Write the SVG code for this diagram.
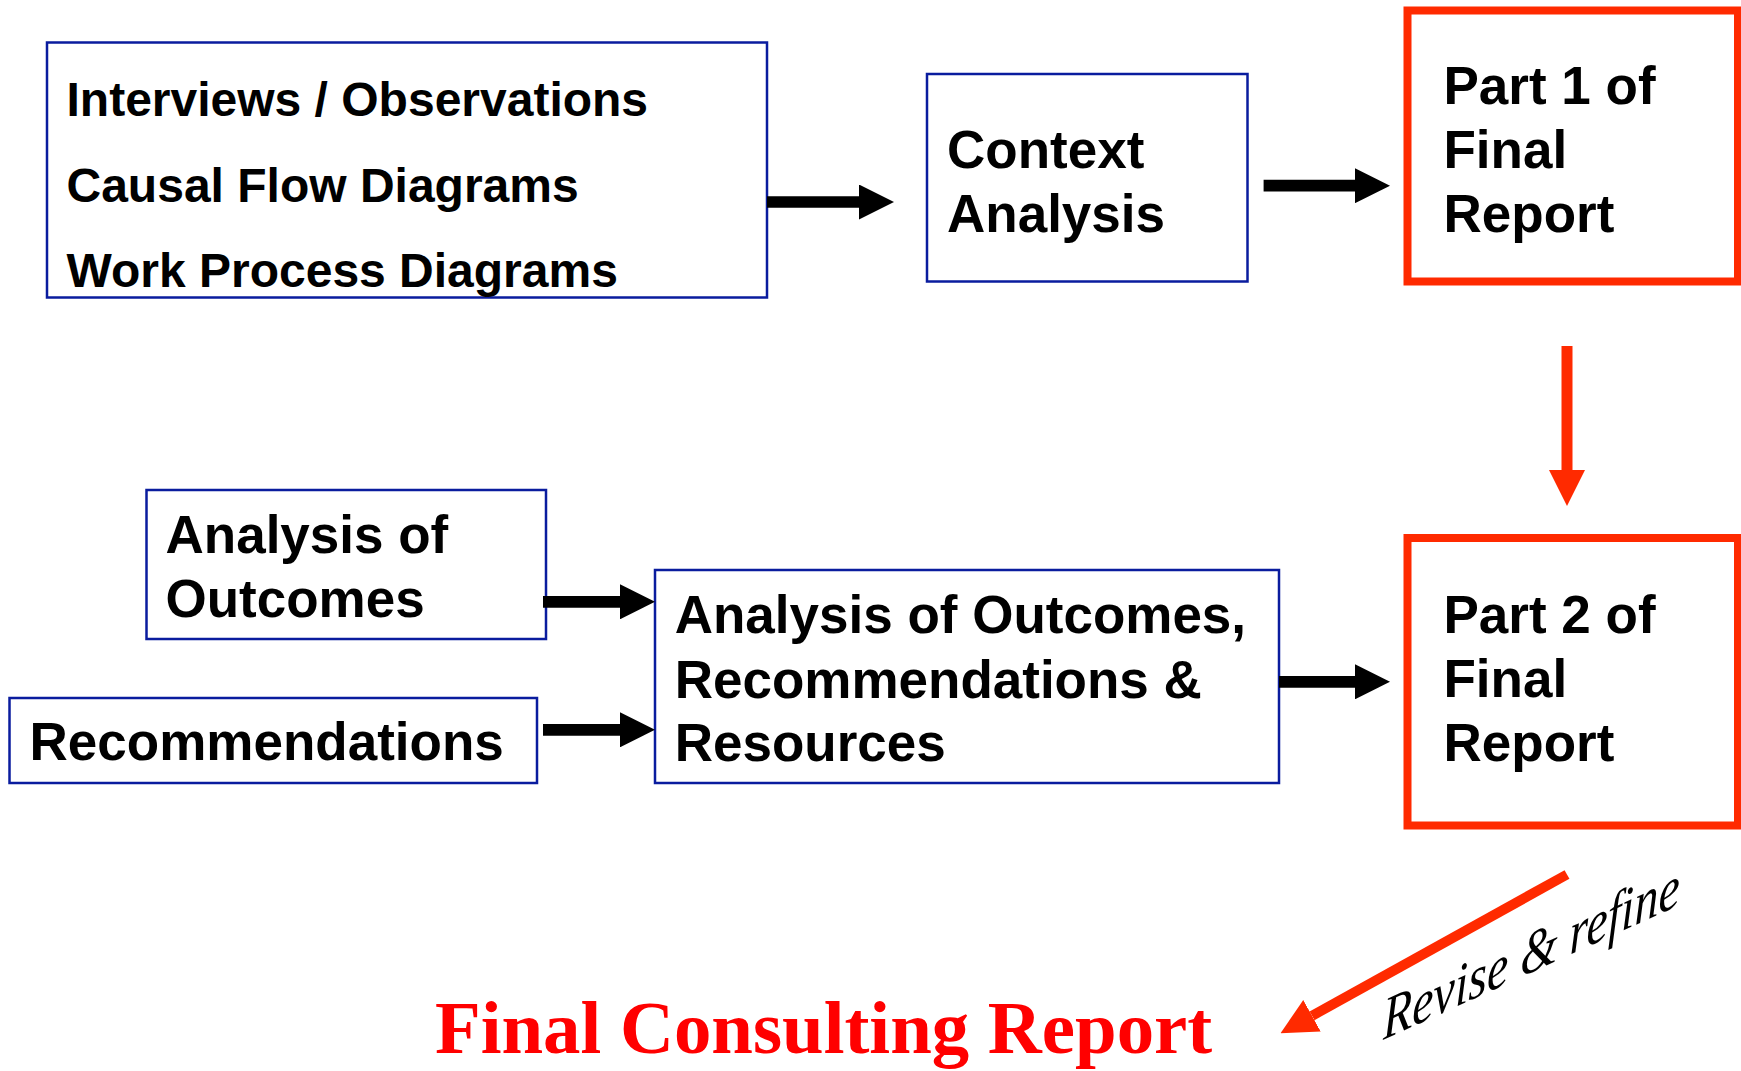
<svg xmlns="http://www.w3.org/2000/svg" width="1741" height="1071" viewBox="0 0 1741 1071">
<style>
.bb{fill:#fff;stroke:#0a1c9e;stroke-width:2.5}
.rb{fill:#fff;stroke:#ff2a00;stroke-width:8}
.t{font-family:"Liberation Sans",Arial,sans-serif;font-weight:bold;fill:#000}
.t48{font-size:48px}
.t53{font-size:53px}
.blk{stroke:#000;stroke-width:11.7;fill:none}
.red{stroke:#ff2a00;fill:none}
</style>
<defs>
<marker id="ah" markerUnits="userSpaceOnUse" viewBox="0 0 35 35" markerWidth="35" markerHeight="35" refX="0" refY="17.5" orient="auto">
<path d="M0,0 L35,17.5 L0,35 Z" fill="#000"/>
</marker>
<marker id="rh" markerUnits="userSpaceOnUse" viewBox="0 0 36 36" markerWidth="36" markerHeight="36" refX="0" refY="18" orient="auto">
<path d="M0,0 L36,18 L0,36 Z" fill="#ff2a00"/>
</marker>
</defs>
<rect width="1741" height="1071" fill="#fff"/>
<g id="inputs">
<rect class="bb" x="47" y="42.5" width="720" height="255"/>
<text class="t t48" x="66.5" y="116">Interviews / Observations</text>
<text class="t t48" x="66.5" y="202">Causal Flow Diagrams</text>
<text class="t t48" x="66.5" y="287">Work Process Diagrams</text>
</g>
<g id="context">
<rect class="bb" x="927" y="74" width="320.5" height="207.5"/>
<text class="t t53" x="947" y="168.3">Context</text>
<text class="t t53" x="947" y="232">Analysis</text>
</g>
<g id="part1">
<rect class="rb" x="1407.5" y="10.5" width="330.5" height="271"/>
<text class="t t53" x="1443.5" y="104">Part 1 of</text>
<text class="t t53" x="1443.5" y="168.3">Final</text>
<text class="t t53" x="1443.5" y="232">Report</text>
</g>
<g id="outcomes">
<rect class="bb" x="146.5" y="490" width="399.5" height="149"/>
<text class="t t53" x="165.5" y="552.7">Analysis of</text>
<text class="t t53" x="165.5" y="616.7">Outcomes</text>
</g>
<g id="recommendations">
<rect class="bb" x="9.5" y="698" width="527.5" height="85"/>
<text class="t t53" x="29.6" y="760">Recommendations</text>
</g>
<g id="combined">
<rect class="bb" x="655" y="570" width="624" height="213"/>
<text class="t t53" x="674.7" y="633.3">Analysis of Outcomes,</text>
<text class="t t53" x="674.7" y="697.7">Recommendations &amp;</text>
<text class="t t53" x="674.7" y="760.7">Resources</text>
</g>
<g id="part2">
<rect class="rb" x="1407.5" y="538" width="330.5" height="287.5"/>
<text class="t t53" x="1443.5" y="632.7">Part 2 of</text>
<text class="t t53" x="1443.5" y="696.7">Final</text>
<text class="t t53" x="1443.5" y="760.7">Report</text>
</g>
<g id="final">
<text x="435" y="1053" font-family="'Liberation Serif','Times New Roman',serif" font-weight="bold" font-size="74.8" fill="#ff0000">Final Consulting Report</text>
</g>
<g id="connectors">
<line class="blk" x1="767" y1="202" x2="859" y2="202" marker-end="url(#ah)"/>
<line class="blk" x1="1263.6" y1="185.7" x2="1355" y2="185.7" marker-end="url(#ah)"/>
<line class="blk" x1="543" y1="601.8" x2="620" y2="601.8" marker-end="url(#ah)"/>
<line class="blk" x1="543" y1="729.8" x2="620" y2="729.8" marker-end="url(#ah)"/>
<line class="blk" x1="1279" y1="681.8" x2="1355" y2="681.8" marker-end="url(#ah)"/>
<line class="red" stroke-width="11" x1="1567" y1="346" x2="1567" y2="470" marker-end="url(#rh)"/>
<line class="red" stroke-width="10" x1="1567" y1="874.5" x2="1312" y2="1015.8" marker-end="url(#rh)"/>
<text x="0" y="0" transform="translate(1383 1040) skewY(-24.5) scale(1 1.25)" font-family="'Liberation Serif','Times New Roman',serif" font-style="italic" font-size="48" fill="#000">Revise &amp; refine</text>
</g>
</svg>
